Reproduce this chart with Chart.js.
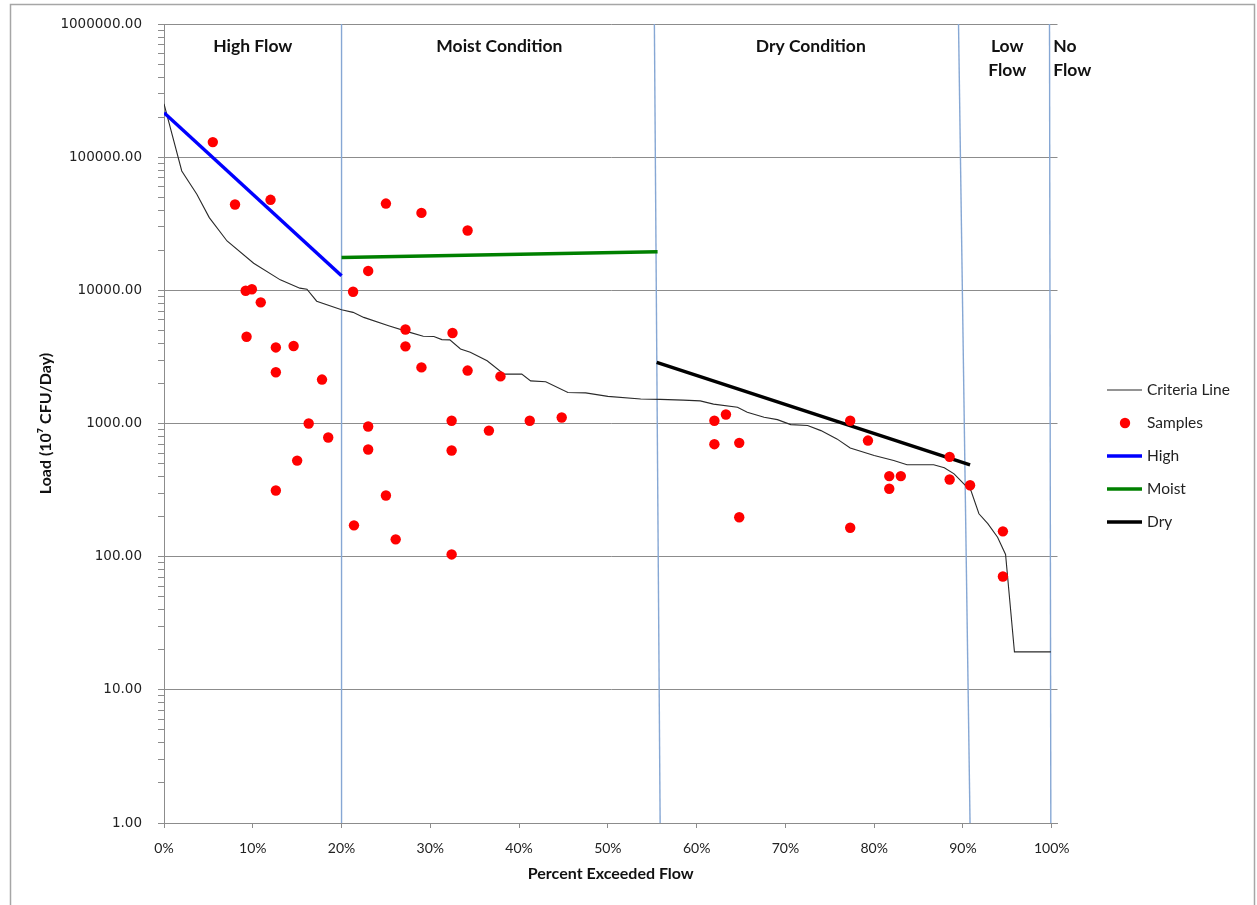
<!DOCTYPE html>
<html>
<head>
<meta charset="utf-8">
<title>Load Duration Curve</title>
<script src="https://cdn.jsdelivr.net/npm/chart.js@4.4.0/dist/chart.umd.min.js"></script>
<style>
  html, body { margin: 0; padding: 0; background: #fff; }
  canvas { display: block; }
</style>
</head>
<body>
<canvas id="ldc" width="1257" height="905"></canvas>
<script>
// ---- Data -------------------------------------------------------------
// Criteria (allowable) load by percent of days the flow is exceeded
const criteriaPct = [0.0, 2.0, 3.7, 5.1, 7.1, 10.1, 13.1, 15.3, 16.1, 17.2, 20.0, 21.3, 22.5, 25.3, 27.7,
  29.2, 30.4, 31.3, 32.2, 33.4, 34.5, 36.4, 38.3, 40.3, 41.3, 43.0, 45.5, 47.5, 50.0, 53.7, 55.9, 58.5,
  60.4, 61.9, 64.6, 65.7, 67.6, 69.1, 70.6, 72.5, 74.0, 75.8, 77.3, 80.0, 82.2, 83.7, 86.7, 87.9, 89.0,
  90.1, 90.9, 91.8, 92.8, 93.9, 94.8, 95.8, 99.9];
const criteriaLoad = [252000, 78900, 52700, 35200, 23500, 16000, 12000, 10400, 10200, 8300, 7160, 6840,
  6270, 5430, 4840, 4520, 4500, 4270, 4250, 3630, 3430, 2960, 2350, 2350, 2090, 2060, 1710, 1700, 1600,
  1530, 1520, 1500, 1480, 1400, 1325, 1215, 1115, 1070, 982, 966, 885, 767, 656, 575, 528, 490, 490,
  465, 419, 352, 314, 210, 177, 140, 104, 19.3, 19.3];

// Measured sample loads
const samplePct = [5.5, 8.0, 12.0, 9.2, 9.9, 10.9, 9.3, 12.6, 14.6, 12.6, 17.8, 16.3, 18.5, 15.0, 12.6,
  25.0, 29.0, 34.2, 23.0, 21.3, 27.2, 32.5, 27.2, 29.0, 34.2, 37.9, 32.4, 23.0, 41.2, 44.8, 36.6, 23.0,
  32.4, 25.0, 21.4, 26.1, 32.4,
  62.0, 63.3, 62.0, 64.8, 64.8, 77.3, 77.3, 79.3, 81.7, 83.0, 81.7, 88.5, 88.5, 90.8, 94.5, 94.5];
const sampleLoad = [130000, 44200, 47900, 9940, 10200, 8130, 4490, 3730, 3820, 2430, 2140, 1000, 785, 527, 314,
  44900, 38200, 28200, 14000, 9770, 5090, 4790, 3800, 2640, 2500, 2260, 1050, 950, 1050, 1110, 885, 638,
  627, 288, 172, 135, 104,
  1050, 1170, 700, 716, 198, 1050, 165, 745, 403, 403, 324, 562, 380, 344, 155, 71];

// Trend lines of the samples within each flow condition
const highPct = [0.0, 20.0];
const highLoad = [216000, 12900];
const moistPct = [20.0, 55.6];
const moistLoad = [17700, 19500];
const dryPct = [55.5, 90.8];
const dryLoad = [2880, 490];

// Flow-condition boundaries (top and bottom of the plot)
const boundaryTopPct = [20.0, 55.24, 89.5, 99.75];
const boundaryBottomPct = [20.0, 55.89, 90.8, 99.9];
const regionNames = [["High Flow"], ["Moist Condition"], ["Dry Condition"], ["Low", "Flow"], ["No", "Flow"]];

// Axis ticks
const xTickPct = [0, 10, 20, 30, 40, 50, 60, 70, 80, 90, 100];
const yDecades = [1, 10, 100, 1000, 10000, 100000, 1000000];
const legendOrder = ["Criteria Line", "Samples", "High", "Moist", "Dry"];

// ---- Helpers ----------------------------------------------------------
const pts = (xs, ys) => xs.map((x, i) => ({ x: x / 100, y: ys[i] }));
const isDecade = v => Math.abs(Math.log10(v) - Math.round(Math.log10(v))) < 1e-9;
const CAL = "Lato, 'Open Sans', sans-serif";
const GRID = '#8c8c8c';

const boundarySets = boundaryTopPct.map((t, i) => ({
  label: 'boundary' + i,
  data: [{ x: t / 100, y: yDecades[yDecades.length - 1] }, { x: boundaryBottomPct[i] / 100, y: yDecades[0] }],
  showLine: true, borderColor: '#86a7d4', borderWidth: 1.4, pointRadius: 0, order: 4
}));

// ---- Plugins ----------------------------------------------------------
const frame = {
  id: 'frame',
  beforeDraw(chart) {
    const c = chart.ctx;
    c.save();
    c.fillStyle = '#fff';
    c.fillRect(0, 0, chart.width, chart.height);
    c.strokeStyle = '#a6a6a6';
    c.lineWidth = 1.5;
    c.strokeRect(10.5, 4.5, chart.width - 13, chart.height + 10);
    c.restore();
  }
};

const regionLabels = {
  id: 'regionLabels',
  afterDatasetsDraw(chart) {
    const c = chart.ctx, xs = chart.scales.x, top = chart.chartArea.top;
    const mid = i => (boundaryTopPct[i] + boundaryBottomPct[i]) / 2;
    c.save();
    c.font = 'bold 17.5px ' + CAL;
    c.fillStyle = '#111';
    c.textBaseline = 'middle';
    regionNames.forEach((lines, i) => {
      let px, align = 'center';
      if (i === regionNames.length - 1) {
        px = xs.getPixelForValue(mid(i - 1) / 100) + 3;
        align = 'left';
      } else {
        const a = i === 0 ? 0 : mid(i - 1);
        px = xs.getPixelForValue((a + mid(i)) / 200);
      }
      c.textAlign = align;
      lines.forEach((t, k) => c.fillText(t, px, top + 22 + k * 24));
    });
    c.restore();
  }
};

const sideLegend = {
  id: 'sideLegend',
  afterDraw(chart) {
    const c = chart.ctx;
    const x0 = chart.chartArea.right + 49.5, gap = 33;
    const y0 = chart.height / 2 + 3.5 - gap * (legendOrder.length - 1) / 2;
    c.save();
    c.font = '15.5px ' + CAL;
    c.textBaseline = 'middle';
    c.textAlign = 'left';
    legendOrder.forEach((name, i) => {
      const ds = chart.data.datasets.find(d => d.label === name);
      const y = y0 + i * gap;
      if (ds.showLine) {
        c.strokeStyle = ds.borderColor;
        c.lineWidth = ds.borderWidth;
        c.beginPath(); c.moveTo(x0, y); c.lineTo(x0 + 35, y); c.stroke();
      } else {
        c.fillStyle = ds.backgroundColor;
        c.beginPath(); c.arc(x0 + 18, y, ds.pointRadius, 0, Math.PI * 2); c.fill();
      }
      c.fillStyle = '#222';
      c.fillText(name, x0 + 40, y);
    });
    c.restore();
  }
};

// ---- Chart ------------------------------------------------------------
new Chart(document.getElementById('ldc'), {
  type: 'scatter',
  data: {
    datasets: [
      { label: 'Samples', data: pts(samplePct, sampleLoad), backgroundColor: '#ff0000', borderColor: '#ff0000',
        pointRadius: 5.2, pointBorderWidth: 0, showLine: false, order: 0 },
      { label: 'High', data: pts(highPct, highLoad), showLine: true, borderColor: '#0000ff', borderWidth: 3.5,
        pointRadius: 0, order: 1 },
      { label: 'Moist', data: pts(moistPct, moistLoad), showLine: true, borderColor: '#008000', borderWidth: 3.5,
        pointRadius: 0, order: 1 },
      { label: 'Dry', data: pts(dryPct, dryLoad), showLine: true, borderColor: '#000000', borderWidth: 3.5,
        pointRadius: 0, order: 1 },
      { label: 'Criteria Line', data: pts(criteriaPct, criteriaLoad), showLine: true, borderColor: '#2a2a2a',
        borderWidth: 1.1, pointRadius: 0, tension: 0, order: 2 },
      ...boundarySets
    ]
  },
  options: {
    responsive: false,
    animation: false,
    devicePixelRatio: 1,
    layout: { padding: { top: 23, right: 199.5, left: 0, bottom: 0 } },
    plugins: { legend: { display: false }, tooltip: { enabled: false } },
    scales: {
      x: {
        type: 'linear', min: 0, max: 1.0065,
        afterBuildTicks: s => { s.ticks = xTickPct.map(v => ({ value: v / 100 })); },
        afterFit: s => { s.height = 82; },
        grid: { drawOnChartArea: false, tickLength: 5, color: GRID, tickColor: GRID },
        border: { color: GRID, width: 1 },
        ticks: { autoSkip: false, maxRotation: 0, padding: 12, color: '#222',
          font: { family: CAL, size: 14 },
          callback: v => Math.round(v * 100) + '%' },
        title: { display: true, text: 'Percent Exceeded Flow', color: '#111',
          font: { family: CAL, size: 16, weight: 'bold' }, padding: { top: 4, bottom: 21.4 } }
      },
      y: {
        type: 'logarithmic', min: 1, max: 1000000,
        afterBuildTicks: s => {
          const t = [];
          yDecades.forEach(d => {
            for (let m = 1; m <= 9; m++) {
              const v = m * d;
              if (v <= yDecades[yDecades.length - 1]) t.push({ value: v });
            }
          });
          s.ticks = t;
        },
        afterFit: s => { s.width = 164; },
        grid: {
          tickLength: 6, tickColor: GRID,
          color: ctx => (ctx.tick && isDecade(ctx.tick.value)) ? GRID : 'rgba(0,0,0,0)'
        },
        border: { color: GRID, width: 1 },
        ticks: { autoSkip: false, padding: 16, color: '#222',
          font: { family: 'DejaVu Sans', size: 13.5 },
          callback: v => isDecade(v) ? Number(v).toFixed(2) : '' },
        title: { display: true, text: 'Load (10\u2077 CFU/Day)', color: '#111',
          font: { family: CAL, size: 16, weight: 'bold' }, padding: { top: 36.4, bottom: 4 } }
      }
    }
  },
  plugins: [frame, regionLabels, sideLegend]
});
</script>
</body>
</html>
